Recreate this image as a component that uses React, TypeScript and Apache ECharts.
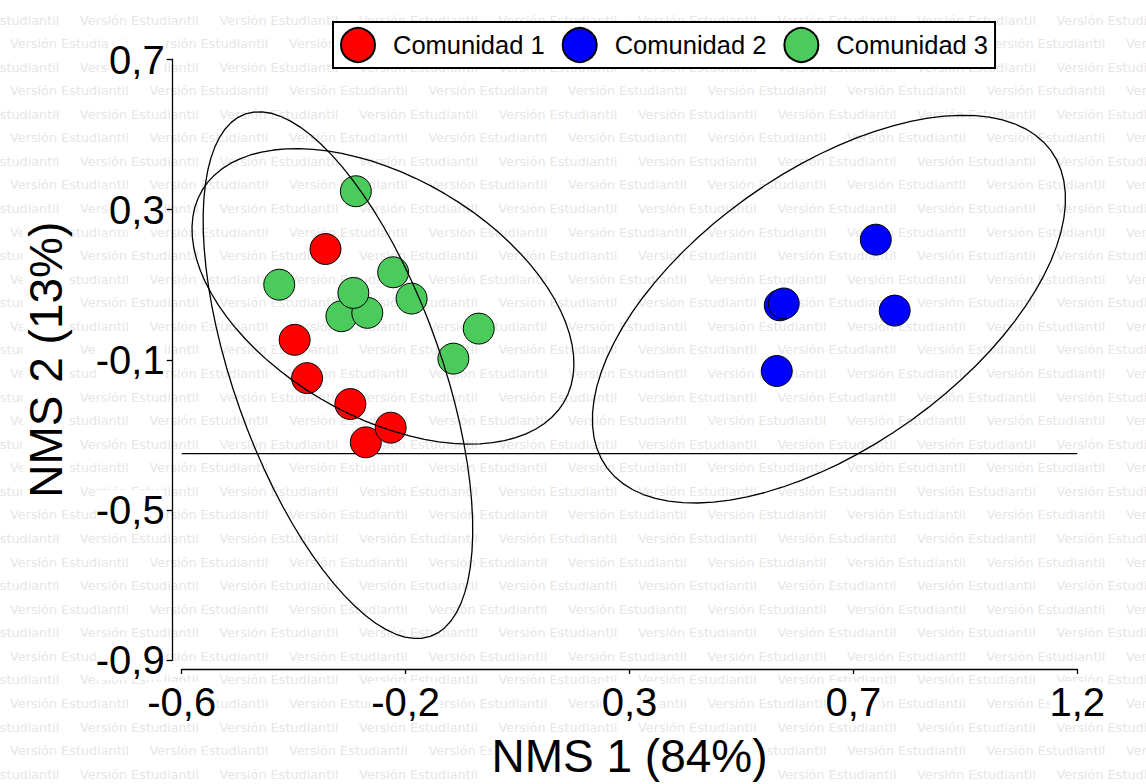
import React, { useEffect, useRef } from 'react';
import * as echarts from 'echarts';

const seriesNames = ['Comunidad 1', 'Comunidad 2', 'Comunidad 3'];
const seriesColors = ['#FF0000', '#0000FF', '#4ACB5C'];

const comunidad1X = [-0.311, -0.373, -0.348, -0.261, -0.230, -0.180];
const comunidad1Y = [0.195, -0.047, -0.149, -0.218, -0.320, -0.281];
const comunidad2X = [0.795, 0.602, 0.610, 0.833, 0.596];
const comunidad2Y = [0.220, 0.045, 0.050, 0.031, -0.130];
const comunidad3X = [-0.250, -0.404, -0.175, -0.138, -0.279, -0.227, -0.255, -0.003, -0.054];
const comunidad3Y = [0.349, 0.100, 0.133, 0.063, 0.016, 0.025, 0.078, -0.017, -0.097];

// confidence ellipses: centre and two conjugate half-axes (data units), one per community
const ellipseCenterX = [-0.286, 0.7008, -0.1955];
const ellipseCenterY = [-0.141, 0.0348, 0.0689];
const ellipseAxis1X = [0.1857, 0.4459, 0.3629];
const ellipseAxis1Y = [-0.6961, 0.4230, -0.2837];
const ellipseAxis2X = [0.1973, 0.1650, -0.1250];
const ellipseAxis2Y = [0.0897, -0.2965, -0.2729];

const referenceLineY = -0.35;

const xMin = -0.6;
const xMax = 1.2;
const xStep = 0.45;
const xTickLabels = ['-0,6', '-0,2', '0,3', '0,7', '1,2'];
const yMin = -0.9;
const yMax = 0.7;
const yStep = 0.4;
const yTickLabels = ['-0,9', '-0,5', '-0,1', '0,3', '0,7'];

const xTitle = 'NMS 1 (84%)';
const yTitle = 'NMS 2 (13%)';
const watermarkText = 'Versión Estudiantil';

const FONT = "'Liberation Sans', Arial, sans-serif";

function ellipsePoints(i: number, n = 80): number[][] {
  const pts: number[][] = [];
  for (let k = 0; k <= n; k++) {
    const t = (2 * Math.PI * k) / n;
    const c = Math.cos(t);
    const s = Math.sin(t);
    pts.push([
      ellipseCenterX[i] + c * ellipseAxis1X[i] + s * ellipseAxis2X[i],
      ellipseCenterY[i] + c * ellipseAxis1Y[i] + s * ellipseAxis2Y[i],
    ]);
  }
  return pts;
}

function buildWatermark() {
  const els: any[] = [];
  for (let r = 0; r < 34; r++) {
    const y = 20 + r * 23.57;
    const start = r % 2 === 0 ? 80 : 10;
    for (let k = -1; k < 9; k++) {
      els.push({
        type: 'text',
        x: start + k * 139.5,
        y,
        z: -10,
        silent: true,
        style: {
          text: watermarkText,
          fill: '#e6e6e6',
          font: "12.8px 'DejaVu Sans', sans-serif",
          verticalAlign: 'middle',
        },
      });
    }
  }
  return els;
}

export default function App() {
  const ref = useRef<HTMLDivElement>(null);
  useEffect(() => {
    if (!ref.current) return;
    const chart = echarts.init(ref.current, undefined, { renderer: 'svg' });
    const xs = [comunidad1X, comunidad2X, comunidad3X];
    const ys = [comunidad1Y, comunidad2Y, comunidad3Y];
    const scatterSeries = seriesNames.map((name, i) => ({
      name,
      type: 'scatter',
      z: 3,
      symbol: 'circle',
      symbolSize: 31,
      data: xs[i].map((x, j) => [x, ys[i][j]]),
      itemStyle: { color: seriesColors[i], borderColor: '#000', borderWidth: 1, opacity: 1 },
    }));
    const ellipseSeries = seriesNames.map((name, i) => ({
      name: 'Elipse ' + name,
      type: 'line',
      z: 4,
      showSymbol: false,
      symbol: 'none',
      smooth: false,
      clip: false,
      data: ellipsePoints(i),
      lineStyle: { color: '#000', width: 1.3 },
      silent: true,
    }));
    chart.setOption({
      animation: false,
      backgroundColor: '#fff',
      textStyle: { fontFamily: FONT },
      graphic: buildWatermark(),
      legend: {
        data: seriesNames,
        left: 333,
        top: 22,
        orient: 'horizontal',
        padding: [5, 7],
        borderColor: '#000',
        borderWidth: 2,
        backgroundColor: '#fff',
        itemWidth: 34,
        itemHeight: 34,
        itemGap: 17,
        icon: 'circle',
        textStyle: { fontSize: 25.5, color: '#000', fontFamily: FONT, padding: [0, 0, 0, 13] },
      },
      grid: { left: 181.7, right: 68.7, top: 59.5, bottom: 114.7, containLabel: false },
      xAxis: {
        type: 'value',
        min: xMin,
        max: xMax,
        interval: xStep,
        offset: 9,
        axisLine: { show: true, onZero: false, lineStyle: { color: '#000', width: 1.3 } },
        axisTick: { show: true, inside: false, length: 5, lineStyle: { color: '#000', width: 1.3 } },
        splitLine: { show: false },
        axisLabel: {
          fontSize: 40,
          color: '#000',
          fontFamily: FONT,
          margin: 13,
          backgroundColor: '#fff',
          formatter: (v: number) => xTickLabels[Math.round((v - xMin) / xStep)] ?? '',
        },
        name: xTitle,
        nameLocation: 'middle',
        nameGap: 64,
        nameTextStyle: { fontSize: 46, color: '#000', fontFamily: FONT, backgroundColor: '#fff' },
      },
      yAxis: {
        type: 'value',
        min: yMin,
        max: yMax,
        interval: yStep,
        offset: 9,
        axisLine: { show: true, onZero: false, lineStyle: { color: '#000', width: 1.3 } },
        axisTick: { show: true, inside: false, length: 6, lineStyle: { color: '#000', width: 1.3 } },
        splitLine: { show: false },
        axisLabel: {
          fontSize: 40,
          color: '#000',
          fontFamily: FONT,
          margin: 8,
          backgroundColor: '#fff',
          formatter: (v: number) => yTickLabels[Math.round((v - yMin) / yStep)] ?? '',
        },
        name: yTitle,
        nameLocation: 'middle',
        nameRotate: 90,
        nameGap: 104,
        nameTextStyle: { fontSize: 46, color: '#000', fontFamily: FONT, backgroundColor: '#fff' },
      },
      series: [
        {
          name: 'Referencia',
          type: 'line',
          z: 1,
          showSymbol: false,
          symbol: 'none',
          silent: true,
          data: [
            [xMin, referenceLineY],
            [xMax, referenceLineY],
          ],
          lineStyle: { color: '#000', width: 1.3 },
        },
        ...scatterSeries,
        ...ellipseSeries,
      ],
    });
    return () => chart.dispose();
  }, []);
  return (
    <div
      ref={ref}
      style={{ position: 'absolute', left: 0, top: 0, width: 1146, height: 784 }}
    />
  );
}
